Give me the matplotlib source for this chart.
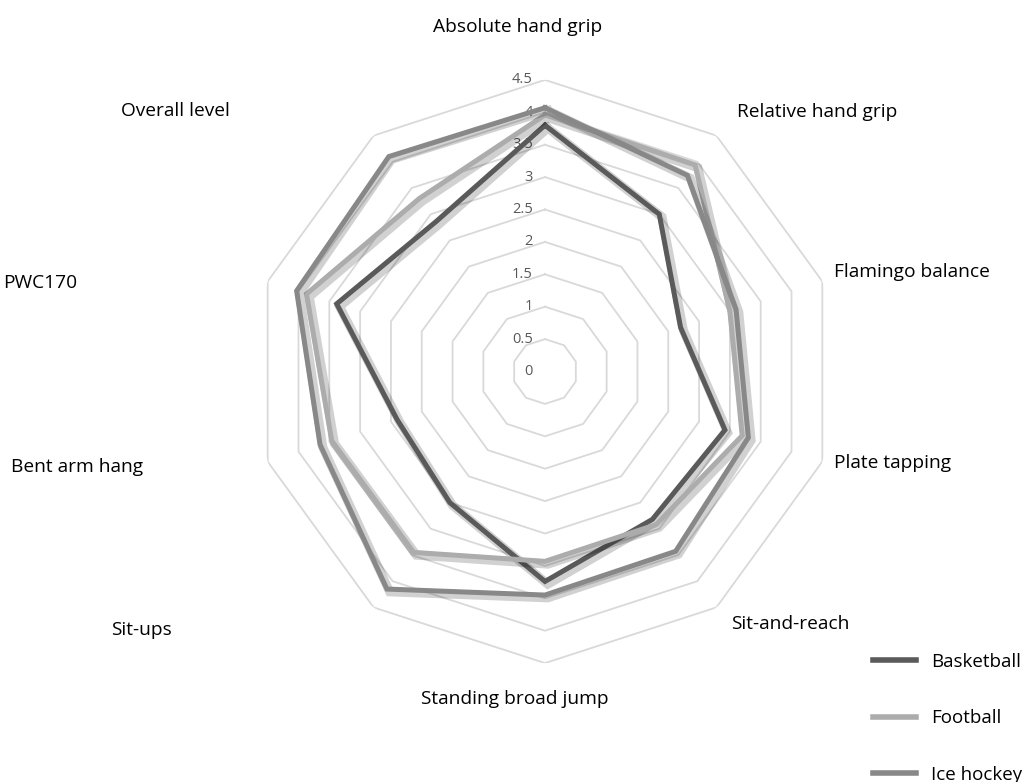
import numpy as np
import matplotlib
matplotlib.use("Agg")
import matplotlib.pyplot as plt
import matplotlib.patheffects as pe
from matplotlib.transforms import offset_copy

plt.rcParams['font.family'] = ['Open Sans', 'DejaVu Sans']

categories = ["Absolute hand grip", "Relative hand grip", "Flamingo balance",
              "Plate tapping", "Sit-and-reach", "Standing broad jump",
              "Sit-ups", "Bent arm hang", "PWC170", "Overall level"]

basketball = [3.80, 3.00, 2.20, 2.92, 2.82, 3.24, 2.50, 2.40, 3.38, 2.86]
football = [3.96, 3.94, 3.00, 3.20, 2.92, 2.93, 3.45, 3.46, 3.87, 3.30]
ice_hockey = [4.07, 3.74, 3.10, 3.30, 3.43, 3.45, 4.15, 3.65, 4.03, 4.10]

series_names = ["Basketball", "Football", "Ice hockey"]
series_colors = ["#5a5a5a", "#acacac", "#888888"]

rings = [0.5, 1.0, 1.5, 2.0, 2.5, 3.0, 3.5, 4.0, 4.5]
tick_vals = [0, 0.5, 1, 1.5, 2, 2.5, 3, 3.5, 4, 4.5]
tick_text = ["0", "0.5", "1", "1.5", "2", "2.5", "3", "3.5", "4", "4.5"]

# label centres in pixels (x from left, y from top)
label_pos = [(518, 27), (817, 112), (912, 272), (893, 463), (790, 624),
             (515, 699), (141, 630), (77, 467), (40, 283), (175, 111)]

W, H = 1026, 782
fig = plt.figure(figsize=(W / 100, H / 100), dpi=100)
cx, cy, R = 545, 371.5, 291.6
ax = fig.add_axes([(cx - R) / W, (H - cy - R) / H, 2 * R / W, 2 * R / H],
                  projection='polar')
ax.set_theta_zero_location('N')
ax.set_theta_direction(-1)
ax.set_ylim(0, 4.5)
ax.grid(False)
ax.spines['polar'].set_visible(False)
ax.set_xticks([])
ax.set_yticks([])
ax.patch.set_alpha(0)

n = len(categories)
theta = np.linspace(0, 2 * np.pi, n, endpoint=False)
theta_c = np.append(theta, theta[0])

for r in rings:
    ax.plot(theta_c, [r] * (n + 1), color="#d9d9d9", lw=1.3, zorder=1)

lab_tr = offset_copy(ax.transData, fig=fig, x=-12, y=0, units='dots')
for v, t in zip(tick_vals, tick_text):
    ax.text(0, v, t, transform=lab_tr, ha='right', va='center',
            fontsize=10.5, color="#595959", zorder=2)

shadow = [pe.SimpleLineShadow(offset=(2, -2), shadow_color='#000000',
                              alpha=0.18, linewidth=6.5),
          pe.Normal()]
for vals, name, col in zip([basketball, football, ice_hockey],
                           series_names, series_colors):
    v = np.append(vals, vals[0])
    ax.plot(theta_c, v, color=col, lw=3.6, solid_joinstyle='miter',
            label=name, zorder=3, path_effects=shadow)

for name, (px, py) in zip(categories, label_pos):
    fig.text(px / W, 1 - py / H, name, ha='center', va='center',
             fontsize=13.8, color="#000000")

handles, labels = ax.get_legend_handles_labels()
leg = fig.legend(handles, labels, loc='upper left',
                 bbox_to_anchor=(873 / W, 1 - 653 / H), frameon=False,
                 fontsize=13.5, handlelength=2.3, handletextpad=0.8,
                 labelspacing=2.05, borderaxespad=0, borderpad=0)
for line in leg.get_lines():
    line.set_path_effects([])
    line.set_linewidth(4)

fig.savefig("out.png", dpi=100)
